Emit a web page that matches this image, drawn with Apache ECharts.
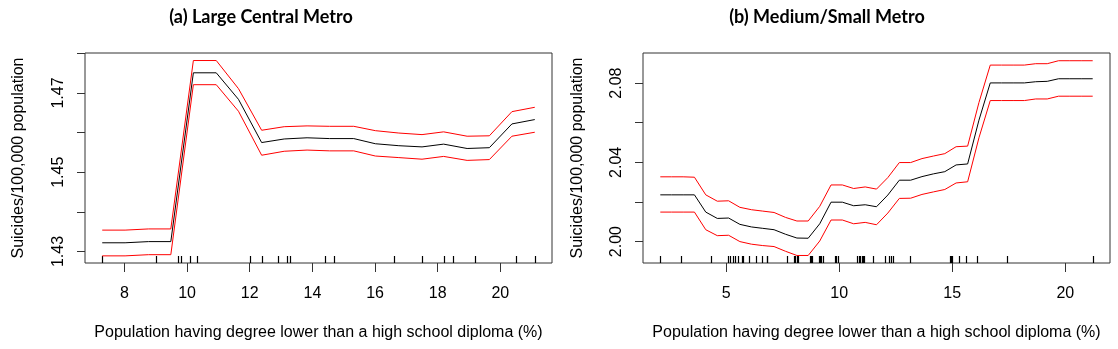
<!DOCTYPE html>
<html>
<head>
<meta charset="utf-8">
<script src="https://cdn.jsdelivr.net/npm/echarts@6/dist/echarts.min.js"></script>
<style>html,body{margin:0;padding:0;background:#fff}#c{width:1118px;height:349px}</style>
</head>
<body>
<div id="c"></div>
<script>
// ---- Panel (a) Large Central Metro ----
var xA = [7.29, 8.02, 8.77, 9.48, 10.20, 10.93, 11.64, 12.38, 13.10, 13.83, 14.55, 15.32, 16.01, 16.76, 17.50, 18.19, 18.94, 19.65, 20.37, 21.10];
var fitA = [1.4322,1.4322,1.4325,1.4325,1.4751,1.4751,1.4684,1.4575,1.4584,1.4587,1.4585,1.4585,1.4572,1.4567,1.4564,1.4571,1.4560,1.4562,1.4622,1.4633];
var upA  = [1.4354,1.4354,1.4357,1.4357,1.4782,1.4782,1.4711,1.4606,1.4615,1.4617,1.4616,1.4616,1.4605,1.4599,1.4595,1.4602,1.4591,1.4592,1.4653,1.4664];
var loA  = [1.4289,1.4289,1.4292,1.4292,1.4721,1.4721,1.4654,1.4543,1.4553,1.4556,1.4554,1.4554,1.4541,1.4537,1.4533,1.4540,1.4530,1.4532,1.4591,1.4601];
var rugA = [7.29, 9.01, 9.70, 9.80, 10.10, 10.30, 12.01, 12.40, 12.91, 13.19, 13.29, 14.41, 14.70, 16.60, 17.51, 18.20, 18.49, 19.20, 20.51, 21.10];
var xTicksA = [8, 10, 12, 14, 16, 18, 20];
var yTicksA = [1.43, 1.44, 1.45, 1.46, 1.47, 1.48];
var yLabelsA = [1.43, 1.45, 1.47];

// ---- Panel (b) Medium/Small Metro ----
var xB = [2.09, 2.59, 3.10, 3.60, 4.10, 4.61, 5.11, 5.61, 6.12, 6.62, 7.12, 7.63, 8.13, 8.63, 9.14, 9.64, 10.14, 10.64, 11.15, 11.65, 12.15, 12.66, 13.16, 13.66, 14.17, 14.67, 15.17, 15.68, 16.18, 16.68, 17.18, 17.69, 18.19, 18.69, 19.20, 19.70, 20.20, 20.70, 21.21];
var fitB = [2.0236,2.0236,2.0236,2.0236,2.0149,2.0117,2.0119,2.0087,2.0074,2.0067,2.0060,2.0037,2.0018,2.0017,2.0090,2.0199,2.0199,2.0181,2.0186,2.0176,2.0235,2.0310,2.0310,2.0328,2.0342,2.0353,2.0387,2.0392,2.0613,2.0801,2.0801,2.0801,2.0801,2.0807,2.0809,2.0822,2.0822,2.0822,2.0822];
var upB  = [2.0327,2.0327,2.0327,2.0325,2.0236,2.0204,2.0206,2.0173,2.0161,2.0154,2.0147,2.0122,2.0104,2.0104,2.0178,2.0286,2.0286,2.0268,2.0276,2.0265,2.0323,2.0399,2.0399,2.0419,2.0432,2.0444,2.0479,2.0482,2.0702,2.0891,2.0891,2.0891,2.0891,2.0898,2.0898,2.0913,2.0913,2.0913,2.0913];
var loB  = [2.0149,2.0149,2.0149,2.0149,2.0060,2.0030,2.0032,2.0000,1.9987,1.9980,1.9975,1.9951,1.9930,1.9930,2.0003,2.0109,2.0109,2.0090,2.0097,2.0085,2.0144,2.0218,2.0219,2.0238,2.0251,2.0263,2.0296,2.0302,2.0524,2.0712,2.0712,2.0712,2.0712,2.0720,2.0720,2.0734,2.0734,2.0734,2.0734];
var rugB = [2.09, 3.01, 4.31, 5.09, 5.18, 5.29, 5.41, 5.53, 5.69, 5.75, 6.00, 6.30, 6.59, 6.80, 6.83, 7.68, 7.99, 8.05, 8.13, 8.19, 8.70, 8.75, 8.81, 9.10, 9.16, 9.20, 9.29, 9.82, 9.87, 9.93, 10.80, 10.87, 10.93, 10.99, 11.05, 11.11, 11.50, 12.01, 12.21, 12.29, 12.37, 13.11, 14.88, 14.93, 14.99, 15.29, 15.62, 16.11, 17.40, 21.21];
var xTicksB = [5, 10, 15, 20];
var yTicksB = [2.00, 2.02, 2.04, 2.06, 2.08];
var yLabelsB = [2.00, 2.04, 2.08];

var titles = ['(a) Large Central Metro', '(b) Medium/Small Metro'];
var xName = 'Population having degree lower than a high school diploma (%)';
var yName = 'Suicides/100,000 population';

var FONT = 'Liberation Sans';
var FS = 16;
var yRangeA = [1.4271, 1.4801], xRangeA = [6.74, 21.65];
var yRangeB = [1.9892, 2.0952], xRangeB = [1.325, 21.975];

function pairs(xs, ys) { return xs.map(function (x, i) { return [x, ys[i]]; }); }

function xAxisCfg(idx, range, ticks) {
  return {
    type: 'value', gridIndex: idx, min: range[0], max: range[1],
    axisLine: { show: false },
    axisTick: { show: true, length: 9, inside: false, customValues: ticks, lineStyle: { color: '#333', width: 1 } },
    axisLabel: { show: true, customValues: ticks, margin: 23, fontFamily: FONT, fontSize: FS, color: '#000' },
    splitLine: { show: false },
    name: xName, nameLocation: 'middle', nameGap: 62,
    nameTextStyle: { fontFamily: FONT, fontSize: FS, color: '#000' }
  };
}
function yAxisCfg(idx, range, ticks, labels, margin, gap) {
  return {
    type: 'value', gridIndex: idx, min: range[0], max: range[1],
    axisLine: { show: false },
    axisTick: { show: true, length: 8, inside: false, customValues: ticks, lineStyle: { color: '#333', width: 1 } },
    axisLabel: { show: true, customValues: labels, rotate: 90, margin: margin, fontFamily: FONT, fontSize: FS, color: '#000',
      formatter: function (v) { return v.toFixed(2); } },
    splitLine: { show: false },
    name: yName, nameLocation: 'middle', nameGap: gap, nameRotate: 90,
    nameTextStyle: { fontFamily: FONT, fontSize: FS, color: '#000' }
  };
}
function lineSeries(idx, data, color) {
  return { type: 'line', xAxisIndex: idx, yAxisIndex: idx, data: data, symbol: 'none', silent: true,
    lineStyle: { color: color, width: 1 }, animation: false };
}
function rugSeries(idx, xs, ymin) {
  return { type: 'custom', xAxisIndex: idx, yAxisIndex: idx, data: xs.map(function (x) { return [x]; }),
    animation: false, silent: true, clip: false,
    renderItem: function (params, api) {
      var p = api.coord([api.value(0), ymin]);
      var x = Math.round(p[0]) + 0.5;
      return { type: 'line', shape: { x1: x, y1: p[1], x2: x, y2: p[1] - 7 }, style: { stroke: '#000', lineWidth: 1.2 } };
    } };
}

var chart = echarts.init(document.getElementById('c'), null, { renderer: 'canvas' });
chart.setOption({
  backgroundColor: '#fff',
  animation: false,
  title: [
    { text: titles[0], left: 256, top: 3, textAlign: 'center', textStyle: { fontFamily: 'Lato', fontWeight: 'bold', fontSize: 18, color: '#000' } },
    { text: titles[1], left: 822, top: 3, textAlign: 'center', textStyle: { fontFamily: 'Lato', fontWeight: 'bold', fontSize: 18, color: '#000' } }
  ],
  grid: [
    { left: 85, top: 53, width: 467, height: 210, show: true, borderColor: '#333', borderWidth: 1, backgroundColor: 'transparent' },
    { left: 643, top: 53, width: 467, height: 210, show: true, borderColor: '#333', borderWidth: 1, backgroundColor: 'transparent' }
  ],
  xAxis: [xAxisCfg(0, xRangeA, xTicksA), xAxisCfg(1, xRangeB, xTicksB)],
  yAxis: [yAxisCfg(0, yRangeA, yTicksA, yLabelsA, 18, 58), yAxisCfg(1, yRangeB, yTicksB, yLabelsB, 18, 57)],
  series: [
    lineSeries(0, pairs(xA, upA), '#ff0000'),
    lineSeries(0, pairs(xA, loA), '#ff0000'),
    lineSeries(0, pairs(xA, fitA), '#000000'),
    rugSeries(0, rugA, yRangeA[0]),
    lineSeries(1, pairs(xB, upB), '#ff0000'),
    lineSeries(1, pairs(xB, loB), '#ff0000'),
    lineSeries(1, pairs(xB, fitB), '#000000'),
    rugSeries(1, rugB, yRangeB[0])
  ]
});
</script>
</body>
</html>
